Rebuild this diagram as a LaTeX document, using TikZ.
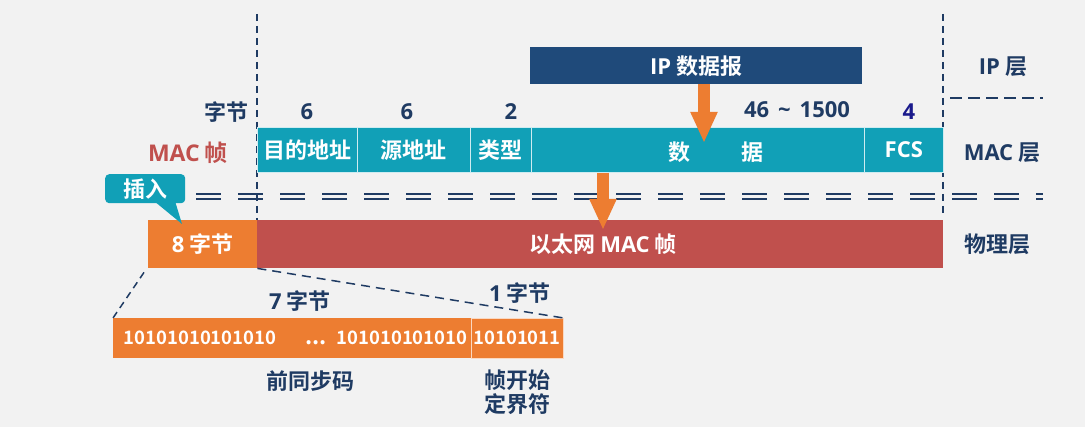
\documentclass[tikz,border=0pt]{standalone}
\usepackage{fontspec}
\setmainfont{Noto Sans CJK SC}[UprightFont={* Bold}]
\newfontfamily\lat{Open Sans}
\newcommand{\lt}[1]{{\lat\bfseries #1}}
\usetikzlibrary{arrows.meta}
\definecolor{bg}{HTML}{F2F2F2}
\definecolor{navy}{HTML}{1F3B63}
\definecolor{ipbox}{HTML}{1F4A7A}
\definecolor{teal}{HTML}{11A0B7}
\definecolor{macred}{HTML}{C0504D}
\definecolor{orng}{HTML}{ED7D31}
\definecolor{dblue}{HTML}{1A1A8C}
\tikzset{
  lbl/.style={text=navy, font=\fontsize{22}{25}\selectfont, inner sep=0pt},
  wlbl/.style={text=white, font=\fontsize{22}{25}\selectfont, inner sep=0pt},
  field/.style={fill=teal, draw=white!80!teal, line width=0.6pt, anchor=north west, minimum height=45pt, inner sep=0pt, text=white, font=\fontsize{22}{25}\selectfont},
  vdash/.style={draw=navy, line width=1.5pt, dash pattern=on 7pt off 5pt},
  bigarrow/.style={draw=orng, line width=12pt, -{Triangle[width=25pt,length=31pt]}},
  bits/.style={text=white, font=\fontsize{18.5}{21}\selectfont, inner sep=0pt},
}
\begin{document}
\begin{tikzpicture}[x=1pt,y=-1pt]
\fill[bg] (0,0) rectangle (1085,427);
\useasboundingbox (0,0) rectangle (1085,427);

% vertical dashed lines
\coordinate (v1t) at (257,14); \coordinate (v1b) at (257,220);
\coordinate (v2t) at (943,14); \coordinate (v2b) at (943,217);
\draw[vdash] (v1t) -- (v1b);
\draw[vdash] (v2t) -- (v2b);
\coordinate (h1a) at (950,98); \coordinate (h1b) at (1043,98);
\draw[draw=navy, line width=1.5pt, dash pattern=on 12pt off 6pt] (h1a) -- (h1b);

% double dashed line
\coordinate (d1a) at (196,194); \coordinate (d1b) at (1043,194);
\coordinate (d2a) at (196,199); \coordinate (d2b) at (1043,199);
\draw[draw=navy, line width=2pt, dash pattern=on 25pt off 17pt] (d1a) -- (d1b);
\draw[draw=navy, line width=2pt, dash pattern=on 25pt off 17pt] (d2a) -- (d2b);

% IP datagram
\node[fill=ipbox, minimum width=332pt, minimum height=37pt, anchor=north west, inner sep=0pt, text=white, font=\fontsize{22}{25}\selectfont] (ip) at (530,47) {\lt{IP} 数据报};

% MAC fields
\node[field, minimum width=100pt] (dst) at (257,127) {目的地址};
\node[field, minimum width=113pt] (src) at (357,127) {源地址};
\node[field, minimum width=61pt] (typ) at (470,127) {类型};
\node[field, minimum width=333pt] (dat) at (531,127) {};
\node[field, minimum width=79pt] (fcs) at (864,127) {\lt{FCS}};
\node[wlbl] (datl) at (716,152) {数\hspace{52pt}据};

% byte counts
\node[lbl] (zj) at (226,112) {字节};
\node[lbl] (n1) at (307,112) {\lt{6}};
\node[lbl] (n2) at (407,112) {\lt{6}};
\node[lbl] (n3) at (511,112) {\lt{2}};
\node[lbl] (n4) at (797,110) {\lt{46\hspace{9pt}\textasciitilde\hspace{9pt}1500}};
\node[lbl, text=dblue] (n5) at (909,112) {\lt{4}};
\node[text=macred, font=\fontsize{23}{26}\selectfont, inner sep=0pt] (macf) at (188,153) {\lt{MAC} 帧};

% layer labels
\node[lbl] (ipl) at (1003,67) {\lt{IP} 层};
\node[lbl] (macl) at (1002,153) {\lt{MAC} 层};
\node[lbl] (phl) at (997,244) {物理层};

% physical frame
\node[fill=macred, minimum width=686pt, minimum height=48pt, anchor=north west, inner sep=0pt] (eth) at (257,220) {};
\node[wlbl] (ethl) at (603,244) {以太网 \lt{MAC} 帧};
\node[fill=orng, minimum width=109pt, minimum height=48pt, anchor=north west, inner sep=0pt, text=white, font=\fontsize{22}{25}\selectfont] (pre) at (148,220) {\lt{8} 字节};

% arrows
\coordinate (a1e) at (704,143);
\draw[bigarrow] (ip.south -| a1e) -- (a1e);
\coordinate (a2e) at (603,230);
\draw[bigarrow] (dat.south -| a2e) -- (a2e);

% callout
\coordinate (tip) at (182,224);
\fill[teal] (154,201) -- (tip) -- (175,201) -- cycle;
\node[fill=teal, rounded corners=4pt, minimum width=80pt, minimum height=29pt, anchor=north west, inner sep=0pt, text=white, font=\fontsize{22}{25}\selectfont] (ins) at (105,174) {插入};

% bottom bar
\node[fill=orng, minimum width=358pt, minimum height=40pt, anchor=north west, inner sep=0pt] (sync) at (113,318) {};
\node[fill=orng, draw=white!70!orng, line width=0.6pt, minimum width=92pt, minimum height=40pt, anchor=north west, inner sep=0pt] (sfd) at (471,318) {};
\node[bits] (b1) at (200,338) {10101010101010};
\node[bits, font=\fontsize{22}{25}\selectfont] (b2) at (316,343) {...};
\node[bits] (b3) at (402,338) {101010101010};
\node[bits] (b4) at (517,338) {10101011};

% zoom lines
\draw[draw=navy, line width=1.5pt, dash pattern=on 7pt off 5pt] (pre.south west) ++(-4,4) coordinate (z1) (z1) -- (sync.north west);
\draw[draw=navy, line width=1.5pt, dash pattern=on 9pt off 6pt] (pre.south east) -- (sfd.north east);

\node[lbl] (s7) at (300,301) {\lt{7} 字节};
\node[lbl] (s1) at (520,293) {\lt{1} 字节};
\node[lbl] (qtb) at (310,381) {前同步码};
\node[lbl, align=center] (sfdl) at (517,392) {帧开始\\[-1pt]定界符};
\end{tikzpicture}
\end{document}
